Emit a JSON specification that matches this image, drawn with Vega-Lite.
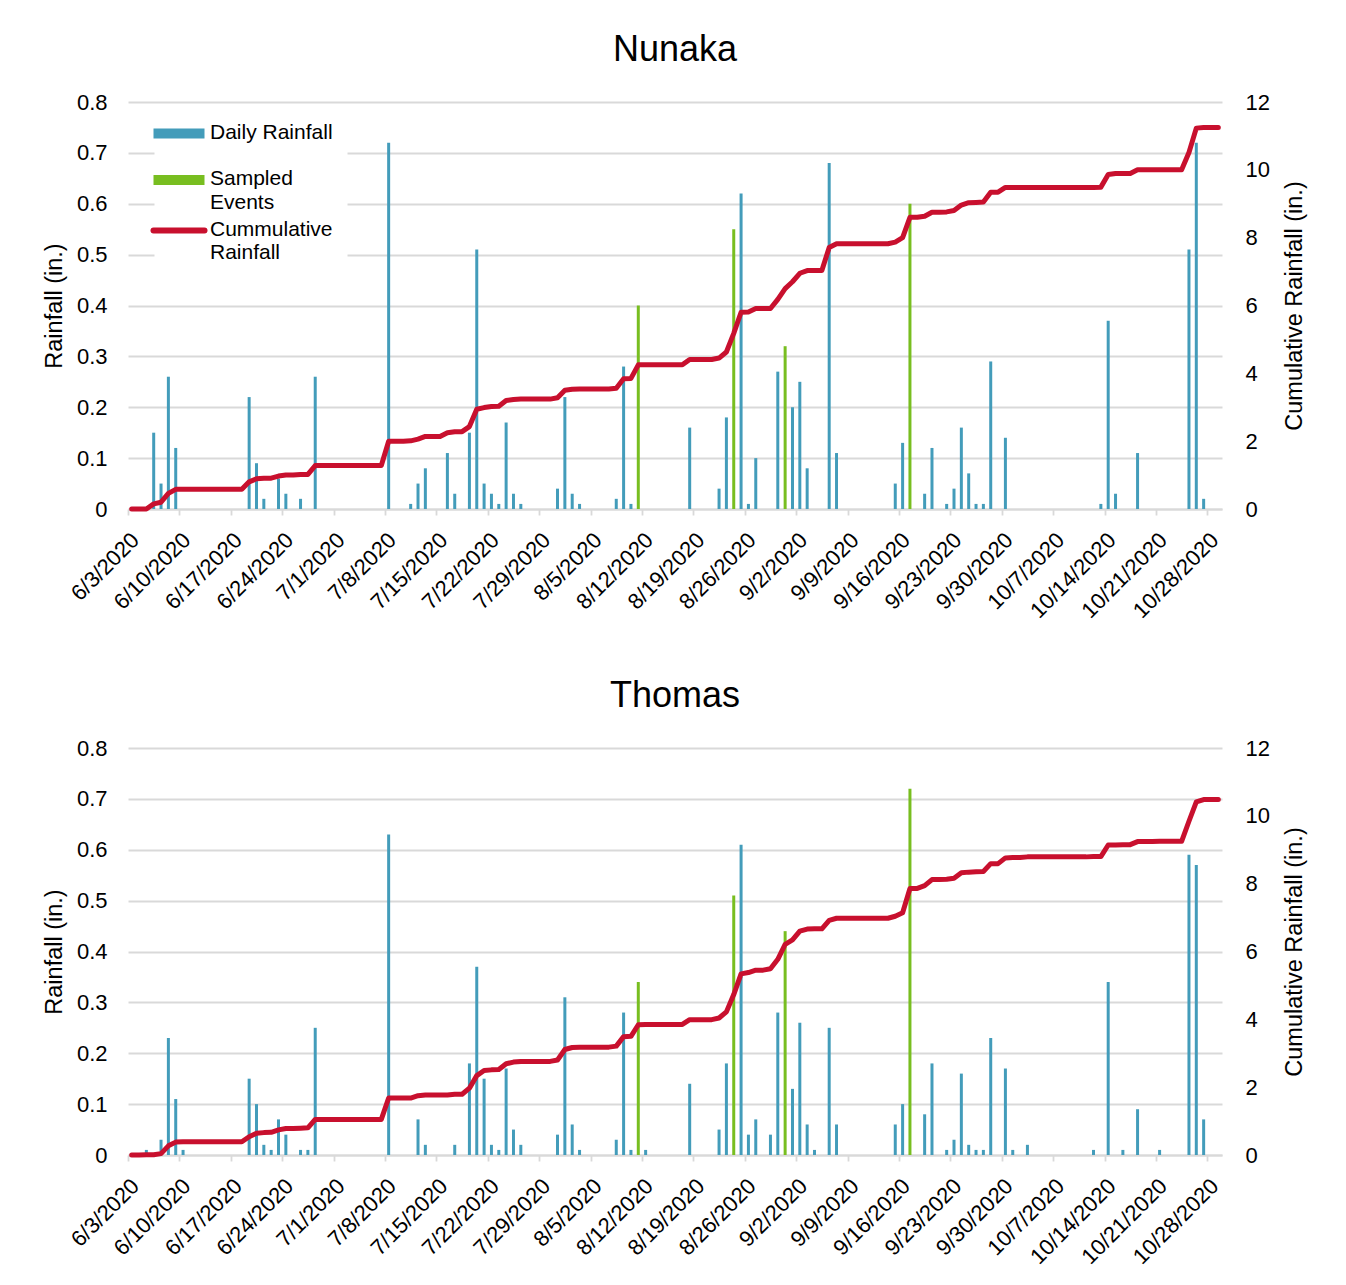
{
"$schema": "https://vega.github.io/schema/vega-lite/v6.json",
"background": "white",
"padding": {"left": 42, "top": 32, "right": 5, "bottom": 5},
"config": {
  "font": "Liberation Sans",
  "view": {"stroke": null},
  "axis": {"labelFont": "Liberation Sans", "titleFont": "Liberation Sans", "labelFontSize": 22, "titleFontSize": 23.5, "labelColor": "#000000", "titleColor": "#000000", "titleFontWeight": "normal", "gridColor": "#D9D9D9", "gridWidth": 1.8, "domain": false, "ticks": false},
  "title": {"font": "Liberation Sans", "fontSize": 36, "fontWeight": "normal", "color": "#000000", "offset": 22, "anchor": "middle"}
},
"datasets": {"rain": [
{"site":"Nunaka","date":"2020-06-03","rain":0,"cum":0,"kind":"Daily Rainfall"},
{"site":"Nunaka","date":"2020-06-05","rain":0,"cum":0,"kind":"Daily Rainfall"},
{"site":"Nunaka","date":"2020-06-06","rain":0.15,"cum":0.15,"kind":"Daily Rainfall"},
{"site":"Nunaka","date":"2020-06-07","rain":0.05,"cum":0.20,"kind":"Daily Rainfall"},
{"site":"Nunaka","date":"2020-06-08","rain":0.26,"cum":0.46,"kind":"Daily Rainfall"},
{"site":"Nunaka","date":"2020-06-09","rain":0.12,"cum":0.58,"kind":"Daily Rainfall"},
{"site":"Nunaka","date":"2020-06-18","rain":0,"cum":0.58,"kind":"Daily Rainfall"},
{"site":"Nunaka","date":"2020-06-19","rain":0.22,"cum":0.80,"kind":"Daily Rainfall"},
{"site":"Nunaka","date":"2020-06-20","rain":0.09,"cum":0.89,"kind":"Daily Rainfall"},
{"site":"Nunaka","date":"2020-06-21","rain":0.02,"cum":0.91,"kind":"Daily Rainfall"},
{"site":"Nunaka","date":"2020-06-22","rain":0,"cum":0.91,"kind":"Daily Rainfall"},
{"site":"Nunaka","date":"2020-06-23","rain":0.06,"cum":0.97,"kind":"Daily Rainfall"},
{"site":"Nunaka","date":"2020-06-24","rain":0.03,"cum":1.00,"kind":"Daily Rainfall"},
{"site":"Nunaka","date":"2020-06-25","rain":0,"cum":1.00,"kind":"Daily Rainfall"},
{"site":"Nunaka","date":"2020-06-26","rain":0.02,"cum":1.02,"kind":"Daily Rainfall"},
{"site":"Nunaka","date":"2020-06-27","rain":0,"cum":1.02,"kind":"Daily Rainfall"},
{"site":"Nunaka","date":"2020-06-28","rain":0.26,"cum":1.28,"kind":"Daily Rainfall"},
{"site":"Nunaka","date":"2020-07-07","rain":0,"cum":1.28,"kind":"Daily Rainfall"},
{"site":"Nunaka","date":"2020-07-08","rain":0.72,"cum":2.00,"kind":"Daily Rainfall"},
{"site":"Nunaka","date":"2020-07-10","rain":0,"cum":2.00,"kind":"Daily Rainfall"},
{"site":"Nunaka","date":"2020-07-11","rain":0.01,"cum":2.01,"kind":"Daily Rainfall"},
{"site":"Nunaka","date":"2020-07-12","rain":0.05,"cum":2.06,"kind":"Daily Rainfall"},
{"site":"Nunaka","date":"2020-07-13","rain":0.08,"cum":2.14,"kind":"Daily Rainfall"},
{"site":"Nunaka","date":"2020-07-15","rain":0,"cum":2.14,"kind":"Daily Rainfall"},
{"site":"Nunaka","date":"2020-07-16","rain":0.11,"cum":2.25,"kind":"Daily Rainfall"},
{"site":"Nunaka","date":"2020-07-17","rain":0.03,"cum":2.28,"kind":"Daily Rainfall"},
{"site":"Nunaka","date":"2020-07-18","rain":0,"cum":2.28,"kind":"Daily Rainfall"},
{"site":"Nunaka","date":"2020-07-19","rain":0.15,"cum":2.43,"kind":"Daily Rainfall"},
{"site":"Nunaka","date":"2020-07-20","rain":0.51,"cum":2.94,"kind":"Daily Rainfall"},
{"site":"Nunaka","date":"2020-07-21","rain":0.05,"cum":2.99,"kind":"Daily Rainfall"},
{"site":"Nunaka","date":"2020-07-22","rain":0.03,"cum":3.02,"kind":"Daily Rainfall"},
{"site":"Nunaka","date":"2020-07-23","rain":0.01,"cum":3.03,"kind":"Daily Rainfall"},
{"site":"Nunaka","date":"2020-07-24","rain":0.17,"cum":3.20,"kind":"Daily Rainfall"},
{"site":"Nunaka","date":"2020-07-25","rain":0.03,"cum":3.23,"kind":"Daily Rainfall"},
{"site":"Nunaka","date":"2020-07-26","rain":0.01,"cum":3.24,"kind":"Daily Rainfall"},
{"site":"Nunaka","date":"2020-07-30","rain":0,"cum":3.24,"kind":"Daily Rainfall"},
{"site":"Nunaka","date":"2020-07-31","rain":0.04,"cum":3.28,"kind":"Daily Rainfall"},
{"site":"Nunaka","date":"2020-08-01","rain":0.22,"cum":3.50,"kind":"Daily Rainfall"},
{"site":"Nunaka","date":"2020-08-02","rain":0.03,"cum":3.53,"kind":"Daily Rainfall"},
{"site":"Nunaka","date":"2020-08-03","rain":0.01,"cum":3.54,"kind":"Daily Rainfall"},
{"site":"Nunaka","date":"2020-08-07","rain":0,"cum":3.54,"kind":"Daily Rainfall"},
{"site":"Nunaka","date":"2020-08-08","rain":0.02,"cum":3.56,"kind":"Daily Rainfall"},
{"site":"Nunaka","date":"2020-08-09","rain":0.28,"cum":3.84,"kind":"Daily Rainfall"},
{"site":"Nunaka","date":"2020-08-10","rain":0.01,"cum":3.85,"kind":"Daily Rainfall"},
{"site":"Nunaka","date":"2020-08-11","rain":0.40,"cum":4.25,"kind":"Sampled Events"},
{"site":"Nunaka","date":"2020-08-17","rain":0,"cum":4.25,"kind":"Daily Rainfall"},
{"site":"Nunaka","date":"2020-08-18","rain":0.16,"cum":4.41,"kind":"Daily Rainfall"},
{"site":"Nunaka","date":"2020-08-21","rain":0,"cum":4.41,"kind":"Daily Rainfall"},
{"site":"Nunaka","date":"2020-08-22","rain":0.04,"cum":4.45,"kind":"Daily Rainfall"},
{"site":"Nunaka","date":"2020-08-23","rain":0.18,"cum":4.63,"kind":"Daily Rainfall"},
{"site":"Nunaka","date":"2020-08-24","rain":0.55,"cum":5.18,"kind":"Sampled Events"},
{"site":"Nunaka","date":"2020-08-25","rain":0.62,"cum":5.80,"kind":"Daily Rainfall"},
{"site":"Nunaka","date":"2020-08-26","rain":0.01,"cum":5.81,"kind":"Daily Rainfall"},
{"site":"Nunaka","date":"2020-08-27","rain":0.10,"cum":5.91,"kind":"Daily Rainfall"},
{"site":"Nunaka","date":"2020-08-29","rain":0,"cum":5.91,"kind":"Daily Rainfall"},
{"site":"Nunaka","date":"2020-08-30","rain":0.27,"cum":6.18,"kind":"Daily Rainfall"},
{"site":"Nunaka","date":"2020-08-31","rain":0.32,"cum":6.50,"kind":"Sampled Events"},
{"site":"Nunaka","date":"2020-09-01","rain":0.20,"cum":6.70,"kind":"Daily Rainfall"},
{"site":"Nunaka","date":"2020-09-02","rain":0.25,"cum":6.95,"kind":"Daily Rainfall"},
{"site":"Nunaka","date":"2020-09-03","rain":0.08,"cum":7.03,"kind":"Daily Rainfall"},
{"site":"Nunaka","date":"2020-09-05","rain":0,"cum":7.03,"kind":"Daily Rainfall"},
{"site":"Nunaka","date":"2020-09-06","rain":0.68,"cum":7.71,"kind":"Daily Rainfall"},
{"site":"Nunaka","date":"2020-09-07","rain":0.11,"cum":7.82,"kind":"Daily Rainfall"},
{"site":"Nunaka","date":"2020-09-14","rain":0,"cum":7.82,"kind":"Daily Rainfall"},
{"site":"Nunaka","date":"2020-09-15","rain":0.05,"cum":7.87,"kind":"Daily Rainfall"},
{"site":"Nunaka","date":"2020-09-16","rain":0.13,"cum":8.00,"kind":"Daily Rainfall"},
{"site":"Nunaka","date":"2020-09-17","rain":0.60,"cum":8.60,"kind":"Sampled Events"},
{"site":"Nunaka","date":"2020-09-18","rain":0,"cum":8.60,"kind":"Daily Rainfall"},
{"site":"Nunaka","date":"2020-09-19","rain":0.03,"cum":8.63,"kind":"Daily Rainfall"},
{"site":"Nunaka","date":"2020-09-20","rain":0.12,"cum":8.75,"kind":"Daily Rainfall"},
{"site":"Nunaka","date":"2020-09-21","rain":0,"cum":8.75,"kind":"Daily Rainfall"},
{"site":"Nunaka","date":"2020-09-22","rain":0.01,"cum":8.76,"kind":"Daily Rainfall"},
{"site":"Nunaka","date":"2020-09-23","rain":0.04,"cum":8.80,"kind":"Daily Rainfall"},
{"site":"Nunaka","date":"2020-09-24","rain":0.16,"cum":8.96,"kind":"Daily Rainfall"},
{"site":"Nunaka","date":"2020-09-25","rain":0.07,"cum":9.03,"kind":"Daily Rainfall"},
{"site":"Nunaka","date":"2020-09-26","rain":0.01,"cum":9.04,"kind":"Daily Rainfall"},
{"site":"Nunaka","date":"2020-09-27","rain":0.01,"cum":9.05,"kind":"Daily Rainfall"},
{"site":"Nunaka","date":"2020-09-28","rain":0.29,"cum":9.34,"kind":"Daily Rainfall"},
{"site":"Nunaka","date":"2020-09-29","rain":0,"cum":9.34,"kind":"Daily Rainfall"},
{"site":"Nunaka","date":"2020-09-30","rain":0.14,"cum":9.48,"kind":"Daily Rainfall"},
{"site":"Nunaka","date":"2020-10-12","rain":0,"cum":9.48,"kind":"Daily Rainfall"},
{"site":"Nunaka","date":"2020-10-13","rain":0.01,"cum":9.49,"kind":"Daily Rainfall"},
{"site":"Nunaka","date":"2020-10-14","rain":0.37,"cum":9.86,"kind":"Daily Rainfall"},
{"site":"Nunaka","date":"2020-10-15","rain":0.03,"cum":9.89,"kind":"Daily Rainfall"},
{"site":"Nunaka","date":"2020-10-17","rain":0,"cum":9.89,"kind":"Daily Rainfall"},
{"site":"Nunaka","date":"2020-10-18","rain":0.11,"cum":10.00,"kind":"Daily Rainfall"},
{"site":"Nunaka","date":"2020-10-24","rain":0,"cum":10.00,"kind":"Daily Rainfall"},
{"site":"Nunaka","date":"2020-10-25","rain":0.51,"cum":10.51,"kind":"Daily Rainfall"},
{"site":"Nunaka","date":"2020-10-26","rain":0.72,"cum":11.23,"kind":"Daily Rainfall"},
{"site":"Nunaka","date":"2020-10-27","rain":0.02,"cum":11.25,"kind":"Daily Rainfall"},
{"site":"Nunaka","date":"2020-10-29","rain":0,"cum":11.25,"kind":"Daily Rainfall"},
{"site":"Thomas","date":"2020-06-03","rain":0,"cum":0,"kind":"Daily Rainfall"},
{"site":"Thomas","date":"2020-06-04","rain":0,"cum":0,"kind":"Daily Rainfall"},
{"site":"Thomas","date":"2020-06-05","rain":0.01,"cum":0.01,"kind":"Daily Rainfall"},
{"site":"Thomas","date":"2020-06-06","rain":0,"cum":0.01,"kind":"Daily Rainfall"},
{"site":"Thomas","date":"2020-06-07","rain":0.03,"cum":0.04,"kind":"Daily Rainfall"},
{"site":"Thomas","date":"2020-06-08","rain":0.23,"cum":0.27,"kind":"Daily Rainfall"},
{"site":"Thomas","date":"2020-06-09","rain":0.11,"cum":0.38,"kind":"Daily Rainfall"},
{"site":"Thomas","date":"2020-06-10","rain":0.01,"cum":0.39,"kind":"Daily Rainfall"},
{"site":"Thomas","date":"2020-06-18","rain":0,"cum":0.39,"kind":"Daily Rainfall"},
{"site":"Thomas","date":"2020-06-19","rain":0.15,"cum":0.54,"kind":"Daily Rainfall"},
{"site":"Thomas","date":"2020-06-20","rain":0.10,"cum":0.64,"kind":"Daily Rainfall"},
{"site":"Thomas","date":"2020-06-21","rain":0.02,"cum":0.66,"kind":"Daily Rainfall"},
{"site":"Thomas","date":"2020-06-22","rain":0.01,"cum":0.67,"kind":"Daily Rainfall"},
{"site":"Thomas","date":"2020-06-23","rain":0.07,"cum":0.74,"kind":"Daily Rainfall"},
{"site":"Thomas","date":"2020-06-24","rain":0.04,"cum":0.78,"kind":"Daily Rainfall"},
{"site":"Thomas","date":"2020-06-25","rain":0,"cum":0.78,"kind":"Daily Rainfall"},
{"site":"Thomas","date":"2020-06-26","rain":0.01,"cum":0.79,"kind":"Daily Rainfall"},
{"site":"Thomas","date":"2020-06-27","rain":0.01,"cum":0.80,"kind":"Daily Rainfall"},
{"site":"Thomas","date":"2020-06-28","rain":0.25,"cum":1.05,"kind":"Daily Rainfall"},
{"site":"Thomas","date":"2020-07-07","rain":0,"cum":1.05,"kind":"Daily Rainfall"},
{"site":"Thomas","date":"2020-07-08","rain":0.63,"cum":1.68,"kind":"Daily Rainfall"},
{"site":"Thomas","date":"2020-07-11","rain":0,"cum":1.68,"kind":"Daily Rainfall"},
{"site":"Thomas","date":"2020-07-12","rain":0.07,"cum":1.75,"kind":"Daily Rainfall"},
{"site":"Thomas","date":"2020-07-13","rain":0.02,"cum":1.77,"kind":"Daily Rainfall"},
{"site":"Thomas","date":"2020-07-16","rain":0,"cum":1.77,"kind":"Daily Rainfall"},
{"site":"Thomas","date":"2020-07-17","rain":0.02,"cum":1.79,"kind":"Daily Rainfall"},
{"site":"Thomas","date":"2020-07-18","rain":0,"cum":1.79,"kind":"Daily Rainfall"},
{"site":"Thomas","date":"2020-07-19","rain":0.18,"cum":1.97,"kind":"Daily Rainfall"},
{"site":"Thomas","date":"2020-07-20","rain":0.37,"cum":2.34,"kind":"Daily Rainfall"},
{"site":"Thomas","date":"2020-07-21","rain":0.15,"cum":2.49,"kind":"Daily Rainfall"},
{"site":"Thomas","date":"2020-07-22","rain":0.02,"cum":2.51,"kind":"Daily Rainfall"},
{"site":"Thomas","date":"2020-07-23","rain":0.01,"cum":2.52,"kind":"Daily Rainfall"},
{"site":"Thomas","date":"2020-07-24","rain":0.17,"cum":2.69,"kind":"Daily Rainfall"},
{"site":"Thomas","date":"2020-07-25","rain":0.05,"cum":2.74,"kind":"Daily Rainfall"},
{"site":"Thomas","date":"2020-07-26","rain":0.02,"cum":2.76,"kind":"Daily Rainfall"},
{"site":"Thomas","date":"2020-07-30","rain":0,"cum":2.76,"kind":"Daily Rainfall"},
{"site":"Thomas","date":"2020-07-31","rain":0.04,"cum":2.80,"kind":"Daily Rainfall"},
{"site":"Thomas","date":"2020-08-01","rain":0.31,"cum":3.11,"kind":"Daily Rainfall"},
{"site":"Thomas","date":"2020-08-02","rain":0.06,"cum":3.17,"kind":"Daily Rainfall"},
{"site":"Thomas","date":"2020-08-03","rain":0.01,"cum":3.18,"kind":"Daily Rainfall"},
{"site":"Thomas","date":"2020-08-07","rain":0,"cum":3.18,"kind":"Daily Rainfall"},
{"site":"Thomas","date":"2020-08-08","rain":0.03,"cum":3.21,"kind":"Daily Rainfall"},
{"site":"Thomas","date":"2020-08-09","rain":0.28,"cum":3.49,"kind":"Daily Rainfall"},
{"site":"Thomas","date":"2020-08-10","rain":0.01,"cum":3.50,"kind":"Daily Rainfall"},
{"site":"Thomas","date":"2020-08-11","rain":0.34,"cum":3.84,"kind":"Sampled Events"},
{"site":"Thomas","date":"2020-08-12","rain":0.01,"cum":3.85,"kind":"Daily Rainfall"},
{"site":"Thomas","date":"2020-08-17","rain":0,"cum":3.85,"kind":"Daily Rainfall"},
{"site":"Thomas","date":"2020-08-18","rain":0.14,"cum":3.99,"kind":"Daily Rainfall"},
{"site":"Thomas","date":"2020-08-21","rain":0,"cum":3.99,"kind":"Daily Rainfall"},
{"site":"Thomas","date":"2020-08-22","rain":0.05,"cum":4.04,"kind":"Daily Rainfall"},
{"site":"Thomas","date":"2020-08-23","rain":0.18,"cum":4.22,"kind":"Daily Rainfall"},
{"site":"Thomas","date":"2020-08-24","rain":0.51,"cum":4.73,"kind":"Sampled Events"},
{"site":"Thomas","date":"2020-08-25","rain":0.61,"cum":5.34,"kind":"Daily Rainfall"},
{"site":"Thomas","date":"2020-08-26","rain":0.04,"cum":5.38,"kind":"Daily Rainfall"},
{"site":"Thomas","date":"2020-08-27","rain":0.07,"cum":5.45,"kind":"Daily Rainfall"},
{"site":"Thomas","date":"2020-08-28","rain":0,"cum":5.45,"kind":"Daily Rainfall"},
{"site":"Thomas","date":"2020-08-29","rain":0.04,"cum":5.49,"kind":"Daily Rainfall"},
{"site":"Thomas","date":"2020-08-30","rain":0.28,"cum":5.77,"kind":"Daily Rainfall"},
{"site":"Thomas","date":"2020-08-31","rain":0.44,"cum":6.21,"kind":"Sampled Events"},
{"site":"Thomas","date":"2020-09-01","rain":0.13,"cum":6.34,"kind":"Daily Rainfall"},
{"site":"Thomas","date":"2020-09-02","rain":0.26,"cum":6.60,"kind":"Daily Rainfall"},
{"site":"Thomas","date":"2020-09-03","rain":0.06,"cum":6.66,"kind":"Daily Rainfall"},
{"site":"Thomas","date":"2020-09-04","rain":0.01,"cum":6.67,"kind":"Daily Rainfall"},
{"site":"Thomas","date":"2020-09-05","rain":0,"cum":6.67,"kind":"Daily Rainfall"},
{"site":"Thomas","date":"2020-09-06","rain":0.25,"cum":6.92,"kind":"Daily Rainfall"},
{"site":"Thomas","date":"2020-09-07","rain":0.06,"cum":6.98,"kind":"Daily Rainfall"},
{"site":"Thomas","date":"2020-09-14","rain":0,"cum":6.98,"kind":"Daily Rainfall"},
{"site":"Thomas","date":"2020-09-15","rain":0.06,"cum":7.04,"kind":"Daily Rainfall"},
{"site":"Thomas","date":"2020-09-16","rain":0.10,"cum":7.14,"kind":"Daily Rainfall"},
{"site":"Thomas","date":"2020-09-17","rain":0.72,"cum":7.86,"kind":"Sampled Events"},
{"site":"Thomas","date":"2020-09-18","rain":0,"cum":7.86,"kind":"Daily Rainfall"},
{"site":"Thomas","date":"2020-09-19","rain":0.08,"cum":7.94,"kind":"Daily Rainfall"},
{"site":"Thomas","date":"2020-09-20","rain":0.18,"cum":8.12,"kind":"Daily Rainfall"},
{"site":"Thomas","date":"2020-09-21","rain":0,"cum":8.12,"kind":"Daily Rainfall"},
{"site":"Thomas","date":"2020-09-22","rain":0.01,"cum":8.13,"kind":"Daily Rainfall"},
{"site":"Thomas","date":"2020-09-23","rain":0.03,"cum":8.16,"kind":"Daily Rainfall"},
{"site":"Thomas","date":"2020-09-24","rain":0.16,"cum":8.32,"kind":"Daily Rainfall"},
{"site":"Thomas","date":"2020-09-25","rain":0.02,"cum":8.34,"kind":"Daily Rainfall"},
{"site":"Thomas","date":"2020-09-26","rain":0.01,"cum":8.35,"kind":"Daily Rainfall"},
{"site":"Thomas","date":"2020-09-27","rain":0.01,"cum":8.36,"kind":"Daily Rainfall"},
{"site":"Thomas","date":"2020-09-28","rain":0.23,"cum":8.59,"kind":"Daily Rainfall"},
{"site":"Thomas","date":"2020-09-29","rain":0,"cum":8.59,"kind":"Daily Rainfall"},
{"site":"Thomas","date":"2020-09-30","rain":0.17,"cum":8.76,"kind":"Daily Rainfall"},
{"site":"Thomas","date":"2020-10-01","rain":0.01,"cum":8.77,"kind":"Daily Rainfall"},
{"site":"Thomas","date":"2020-10-02","rain":0,"cum":8.77,"kind":"Daily Rainfall"},
{"site":"Thomas","date":"2020-10-03","rain":0.02,"cum":8.79,"kind":"Daily Rainfall"},
{"site":"Thomas","date":"2020-10-11","rain":0,"cum":8.79,"kind":"Daily Rainfall"},
{"site":"Thomas","date":"2020-10-12","rain":0.01,"cum":8.80,"kind":"Daily Rainfall"},
{"site":"Thomas","date":"2020-10-13","rain":0,"cum":8.80,"kind":"Daily Rainfall"},
{"site":"Thomas","date":"2020-10-14","rain":0.34,"cum":9.14,"kind":"Daily Rainfall"},
{"site":"Thomas","date":"2020-10-15","rain":0,"cum":9.14,"kind":"Daily Rainfall"},
{"site":"Thomas","date":"2020-10-16","rain":0.01,"cum":9.15,"kind":"Daily Rainfall"},
{"site":"Thomas","date":"2020-10-17","rain":0,"cum":9.15,"kind":"Daily Rainfall"},
{"site":"Thomas","date":"2020-10-18","rain":0.09,"cum":9.24,"kind":"Daily Rainfall"},
{"site":"Thomas","date":"2020-10-20","rain":0,"cum":9.24,"kind":"Daily Rainfall"},
{"site":"Thomas","date":"2020-10-21","rain":0.01,"cum":9.25,"kind":"Daily Rainfall"},
{"site":"Thomas","date":"2020-10-24","rain":0,"cum":9.25,"kind":"Daily Rainfall"},
{"site":"Thomas","date":"2020-10-25","rain":0.59,"cum":9.84,"kind":"Daily Rainfall"},
{"site":"Thomas","date":"2020-10-26","rain":0.57,"cum":10.41,"kind":"Daily Rainfall"},
{"site":"Thomas","date":"2020-10-27","rain":0.07,"cum":10.48,"kind":"Daily Rainfall"},
{"site":"Thomas","date":"2020-10-29","rain":0,"cum":10.48,"kind":"Daily Rainfall"}
]},
"data": {"name": "rain"},
"spacing": 56,
"resolve": {"scale": {"color": "independent"}},
"vconcat": [
{
  "width": 1094, "height": 407,
  "title": {"text": "Nunaka"},
  "transform": [{"filter": "datum.site == 'Nunaka'"}],
  "encoding": {
    "x": {"field": "date", "type": "temporal", "timeUnit": "utcyearmonthdate", "bandPosition": 0.5,
      "scale": {"domain": [{"year": 2020, "month": 6, "date": 3, "utc": true}, {"year": 2020, "month": 10, "date": 30, "utc": true}]},
      "axis": {"title": null, "grid": false, "domain": true, "domainColor": "#D9D9D9", "domainWidth": 1.8, "ticks": true, "tickColor": "#D9D9D9", "tickWidth": 1.8, "tickSize": 6, "labelAngle": -45, "labelAlign": "right", "labelBaseline": "top", "labelPadding": 14, "labelOverlap": false, "labelFlush": false,
        "labelExpr": "utcFormat(datum.value, '%-m/%-d/%Y')",
        "values": [{"year":2020,"month":6,"date":3,"utc":true},{"year":2020,"month":6,"date":10,"utc":true},{"year":2020,"month":6,"date":17,"utc":true},{"year":2020,"month":6,"date":24,"utc":true},{"year":2020,"month":7,"date":1,"utc":true},{"year":2020,"month":7,"date":8,"utc":true},{"year":2020,"month":7,"date":15,"utc":true},{"year":2020,"month":7,"date":22,"utc":true},{"year":2020,"month":7,"date":29,"utc":true},{"year":2020,"month":8,"date":5,"utc":true},{"year":2020,"month":8,"date":12,"utc":true},{"year":2020,"month":8,"date":19,"utc":true},{"year":2020,"month":8,"date":26,"utc":true},{"year":2020,"month":9,"date":2,"utc":true},{"year":2020,"month":9,"date":9,"utc":true},{"year":2020,"month":9,"date":16,"utc":true},{"year":2020,"month":9,"date":23,"utc":true},{"year":2020,"month":9,"date":30,"utc":true},{"year":2020,"month":10,"date":7,"utc":true},{"year":2020,"month":10,"date":14,"utc":true},{"year":2020,"month":10,"date":21,"utc":true},{"year":2020,"month":10,"date":28,"utc":true}]}}
  },
  "layer": [
    {
      "transform": [{"filter": "datum.rain > 0"}],
      "mark": {"type": "rule", "strokeWidth": 3},
      "encoding": {
        "y": {"field": "rain", "type": "quantitative", "scale": {"domain": [0, 0.8]},
          "axis": {"title": "Rainfall (in.)", "values": [0, 0.1, 0.2, 0.3, 0.4, 0.5, 0.6, 0.7, 0.8], "format": "~g", "grid": true, "labelPadding": 21, "titlePadding": 10}},
        "y2": {"datum": 0},
        "color": {"field": "kind", "type": "nominal",
          "scale": {"domain": ["Daily Rainfall", "Sampled Events", "Cummulative Rainfall"], "range": ["#439CBA", "#78BE20", "#C8102E"]},
          "legend": {"orient": "none", "legendX": 26.5, "legendY": 7, "title": null, "symbolType": "stroke", "symbolSize": 2601, "symbolStrokeWidth": 10,
            "labelFont": "Liberation Sans", "labelFontSize": 21, "labelColor": "#000000", "labelLimit": 0, "labelOffset": 20.5, "labelBaseline": "top",
            "labelExpr": "datum.label == 'Sampled Events' ? ['Sampled', 'Events'] : datum.label == 'Cummulative Rainfall' ? ['Cummulative', 'Rainfall'] : datum.label",
            "fillColor": "white", "padding": 14, "rowPadding": 5.5,
            "encode": {"symbols": {"update": {"strokeWidth": {"signal": "datum.value == 'Cummulative Rainfall' ? 6 : 10"}, "strokeCap": {"signal": "datum.value == 'Cummulative Rainfall' ? 'round' : 'butt'"}}},
                       "labels": {"update": {"dy": {"value": -12}, "lineHeight": {"value": 23.5}}}}}
        }
      }
    },
    {
      "mark": {"type": "line", "strokeWidth": 5, "strokeCap": "round", "strokeJoin": "round"},
      "encoding": {
        "y": {"field": "cum", "type": "quantitative", "scale": {"domain": [0, 12]},
          "axis": {"orient": "right", "title": "Cumulative Rainfall (in.)", "values": [0, 2, 4, 6, 8, 10, 12], "grid": false, "labelPadding": 23, "titleAngle": 270, "titleBaseline": "top", "titlePadding": 13}},
        "color": {"datum": "Cummulative Rainfall", "type": "nominal"}
      }
    }
  ],
  "resolve": {"scale": {"y": "independent"}}
},
{
  "width": 1094, "height": 407,
  "title": {"text": "Thomas"},
  "transform": [{"filter": "datum.site == 'Thomas'"}],
  "encoding": {
    "x": {"field": "date", "type": "temporal", "timeUnit": "utcyearmonthdate", "bandPosition": 0.5,
      "scale": {"domain": [{"year": 2020, "month": 6, "date": 3, "utc": true}, {"year": 2020, "month": 10, "date": 30, "utc": true}]},
      "axis": {"title": null, "grid": false, "domain": true, "domainColor": "#D9D9D9", "domainWidth": 1.8, "ticks": true, "tickColor": "#D9D9D9", "tickWidth": 1.8, "tickSize": 6, "labelAngle": -45, "labelAlign": "right", "labelBaseline": "top", "labelPadding": 14, "labelOverlap": false, "labelFlush": false,
        "labelExpr": "utcFormat(datum.value, '%-m/%-d/%Y')",
        "values": [{"year":2020,"month":6,"date":3,"utc":true},{"year":2020,"month":6,"date":10,"utc":true},{"year":2020,"month":6,"date":17,"utc":true},{"year":2020,"month":6,"date":24,"utc":true},{"year":2020,"month":7,"date":1,"utc":true},{"year":2020,"month":7,"date":8,"utc":true},{"year":2020,"month":7,"date":15,"utc":true},{"year":2020,"month":7,"date":22,"utc":true},{"year":2020,"month":7,"date":29,"utc":true},{"year":2020,"month":8,"date":5,"utc":true},{"year":2020,"month":8,"date":12,"utc":true},{"year":2020,"month":8,"date":19,"utc":true},{"year":2020,"month":8,"date":26,"utc":true},{"year":2020,"month":9,"date":2,"utc":true},{"year":2020,"month":9,"date":9,"utc":true},{"year":2020,"month":9,"date":16,"utc":true},{"year":2020,"month":9,"date":23,"utc":true},{"year":2020,"month":9,"date":30,"utc":true},{"year":2020,"month":10,"date":7,"utc":true},{"year":2020,"month":10,"date":14,"utc":true},{"year":2020,"month":10,"date":21,"utc":true},{"year":2020,"month":10,"date":28,"utc":true}]}}
  },
  "layer": [
    {
      "transform": [{"filter": "datum.rain > 0"}],
      "mark": {"type": "rule", "strokeWidth": 3},
      "encoding": {
        "y": {"field": "rain", "type": "quantitative", "scale": {"domain": [0, 0.8]},
          "axis": {"title": "Rainfall (in.)", "values": [0, 0.1, 0.2, 0.3, 0.4, 0.5, 0.6, 0.7, 0.8], "format": "~g", "grid": true, "labelPadding": 21, "titlePadding": 10}},
        "y2": {"datum": 0},
        "color": {"field": "kind", "type": "nominal",
          "scale": {"domain": ["Daily Rainfall", "Sampled Events", "Cummulative Rainfall"], "range": ["#439CBA", "#78BE20", "#C8102E"]},
          "legend": null}
      }
    },
    {
      "mark": {"type": "line", "strokeWidth": 5, "strokeCap": "round", "strokeJoin": "round"},
      "encoding": {
        "y": {"field": "cum", "type": "quantitative", "scale": {"domain": [0, 12]},
          "axis": {"orient": "right", "title": "Cumulative Rainfall (in.)", "values": [0, 2, 4, 6, 8, 10, 12], "grid": false, "labelPadding": 23, "titleAngle": 270, "titleBaseline": "top", "titlePadding": 13}},
        "color": {"datum": "Cummulative Rainfall", "type": "nominal", "legend": null}
      }
    }
  ],
  "resolve": {"scale": {"y": "independent"}}
}
]
}
